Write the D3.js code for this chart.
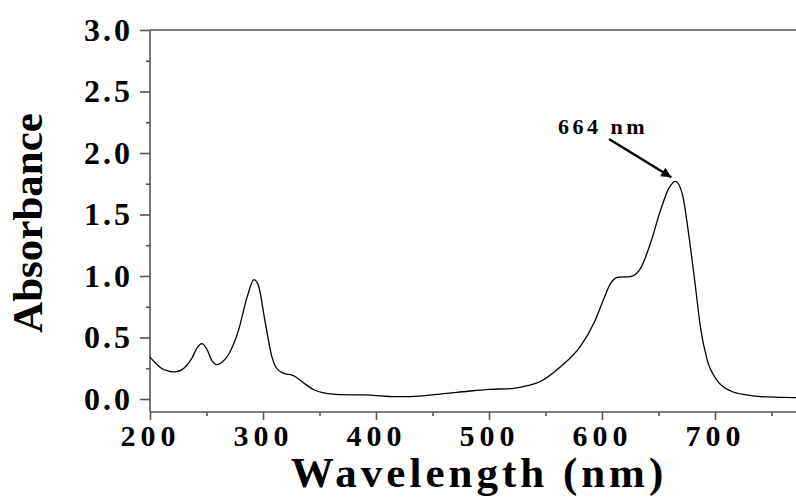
<!DOCTYPE html>
<html>
<head>
<meta charset="utf-8">
<script src="https://cdn.jsdelivr.net/npm/d3@7"></script>
<style>
  body { margin: 0; background: #fff; }
  text { font-family: "Liberation Serif", "Times New Roman", serif; font-weight: bold; }
</style>
</head>
<body>
<script>
// absorption spectrum
var wavelength = [200, 205, 210, 215, 222, 230, 237, 242, 246, 250, 255, 259, 264, 270, 278, 286, 292, 296,
  302, 308, 312, 318, 327, 336, 345, 356, 368, 390, 405, 415, 430, 457, 486, 500, 520, 535, 545, 563,
  581, 593, 601, 607, 614, 625, 634, 643, 652, 659, 665, 671, 677, 683, 687, 693, 702, 714, 728, 740, 758, 775];
var absorbance = [0.34, 0.29, 0.25, 0.23, 0.22, 0.25, 0.33, 0.42, 0.45, 0.41, 0.31, 0.28, 0.30, 0.37, 0.55, 0.83, 0.97, 0.92,
  0.62, 0.34, 0.25, 0.21, 0.19, 0.13, 0.075, 0.045, 0.035, 0.033, 0.025, 0.019, 0.02, 0.04, 0.067, 0.078, 0.085, 0.11, 0.14, 0.26,
  0.43, 0.62, 0.80, 0.93, 0.99, 0.995, 1.06, 1.27, 1.54, 1.71, 1.77, 1.67, 1.32, 0.89, 0.59, 0.32, 0.15, 0.065, 0.033, 0.02, 0.014, 0.01];

var xTicks = [200, 300, 400, 500, 600, 700];
var xMinor = [250, 350, 450, 550, 650, 750];
var yTicks = [0, 0.5, 1.0, 1.5, 2.0, 2.5, 3.0];
var yMinor = [0.25, 0.75, 1.25, 1.75, 2.25, 2.75];
var peak = {nm: 664, label: "664 nm"};

var w = 796, h = 497;
var padLeft = 150, padTop = 30, axisY = 412;

var svg = d3.select("body").append("svg")
  .attr("width", w)
  .attr("height", h);

var x = d3.scaleLinear().domain([200, 800]).range([padLeft, padLeft + 6 * 113]);
var y = d3.scaleLinear().domain([0, 3]).range([399, padTop]);

var data = wavelength.map((d, i) => [d, absorbance[i]]);

// top frame line
svg.append("line")
  .attr("x1", padLeft).attr("x2", w + 10)
  .attr("y1", padTop).attr("y2", padTop)
  .attr("stroke", "#000").attr("stroke-width", 1);

// y axis
var yAxis = svg.append("g")
  .attr("transform", `translate(${padLeft},0)`)
  .call(d3.axisLeft(y).tickValues(yTicks).tickSize(10).tickSizeOuter(0).tickFormat(d3.format(".1f")));
svg.append("g")
  .attr("transform", `translate(${padLeft},0)`)
  .call(d3.axisLeft(y).tickValues(yMinor).tickSize(4).tickSizeOuter(0).tickFormat(""))
  .select(".domain").remove();
yAxis.select(".domain").attr("d", `M0,${padTop}V${axisY}`);
yAxis.selectAll("text")
  .attr("x", -17)
  .style("font-size", "32px")
  .style("letter-spacing", "3px")
  .attr("fill", "#000");

// x axis
var xAxis = svg.append("g")
  .attr("transform", `translate(0,${axisY})`)
  .call(d3.axisBottom(x).tickValues(xTicks).tickSize(8).tickSizeOuter(0));
svg.append("g")
  .attr("transform", `translate(0,${axisY})`)
  .call(d3.axisBottom(x).tickValues(xMinor).tickSize(4).tickSizeOuter(0).tickFormat(""))
  .select(".domain").remove();
xAxis.select(".domain").attr("d", `M${padLeft},0H${w + 10}`);
xAxis.selectAll("text")
  .attr("y", 14)
  .attr("dy", "0.66em")
  .style("font-size", "30px")
  .style("letter-spacing", "5px")
  .attr("fill", "#000");

svg.selectAll(".domain, .tick line")
  .attr("stroke", "#555")
  .attr("stroke-width", 1.6);

// spectrum
svg.append("path")
  .datum(data)
  .attr("fill", "none")
  .attr("stroke", "#000")
  .attr("stroke-width", 1.3)
  .attr("d", d3.line()
    .x(d => x(d[0]))
    .y(d => y(d[1]))
    .curve(d3.curveMonotoneX));

// annotation
svg.append("defs").append("marker")
  .attr("id", "head")
  .attr("viewBox", "0 0 10 10")
  .attr("refX", 10).attr("refY", 5)
  .attr("markerWidth", 5).attr("markerHeight", 4)
  .attr("orient", "auto")
  .append("path").attr("d", "M0,0L10,5L0,10z").attr("fill", "#000");

var peakA = absorbance[wavelength.indexOf(665)];
svg.append("line")
  .attr("x1", 609).attr("y1", 139)
  .attr("x2", x(peak.nm) - 3).attr("y2", y(peakA) - 4)
  .attr("stroke", "#000").attr("stroke-width", 2.5)
  .attr("marker-end", "url(#head)");

svg.append("text")
  .attr("x", 558).attr("y", 134)
  .style("font-size", "22px")
  .style("letter-spacing", "3.5px")
  .text(peak.label);

// axis titles
svg.append("text")
  .attr("transform", "translate(42,223) rotate(-90)")
  .attr("text-anchor", "middle")
  .style("font-size", "43px")
  .text("Absorbance");

svg.append("text")
  .attr("x", 479).attr("y", 487)
  .attr("text-anchor", "middle")
  .style("font-size", "43px")
  .style("letter-spacing", "4px")
  .text("Wavelength (nm)");
</script>
</body>
</html>
